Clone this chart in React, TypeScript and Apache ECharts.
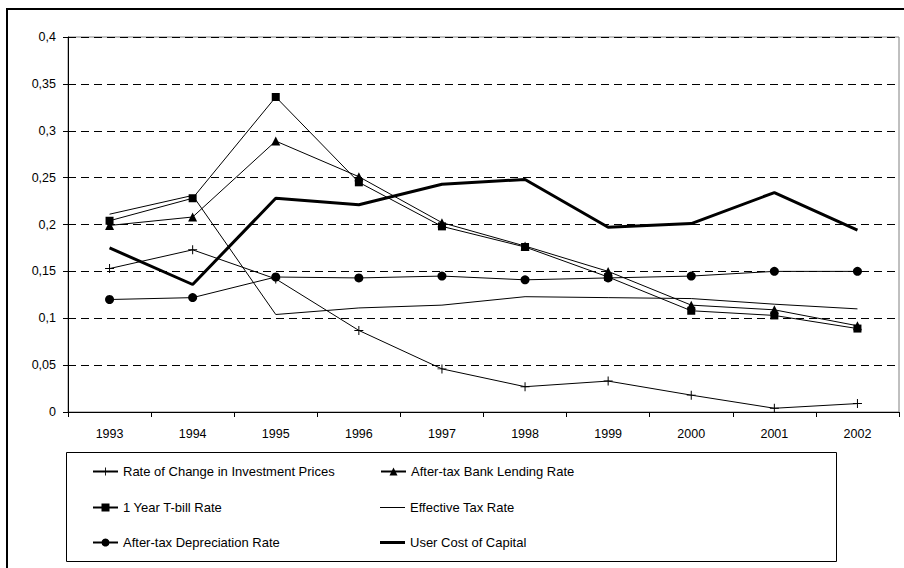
import React, { useEffect, useRef } from "react";
import * as echarts from "echarts";

const years = ["1993", "1994", "1995", "1996", "1997", "1998", "1999", "2000", "2001", "2002"];
const investmentPrices = [0.153, 0.173, 0.142, 0.087, 0.046, 0.027, 0.033, 0.018, 0.004, 0.009];
const bankLending = [0.199, 0.208, 0.289, 0.251, 0.202, 0.177, 0.150, 0.114, 0.109, 0.092];
const tBill = [0.204, 0.228, 0.336, 0.245, 0.198, 0.176, 0.144, 0.108, 0.103, 0.089];
const effectiveTax = [0.211, 0.231, 0.104, 0.111, 0.114, 0.123, 0.122, 0.121, 0.115, 0.110];
const depreciation = [0.120, 0.122, 0.144, 0.143, 0.145, 0.141, 0.143, 0.145, 0.150, 0.150];
const userCost = [0.175, 0.136, 0.228, 0.221, 0.243, 0.248, 0.197, 0.201, 0.234, 0.194];

const seriesNames = [
  "Rate of Change in Investment Prices",
  "After-tax Bank Lending Rate",
  "1 Year T-bill Rate",
  "Effective Tax Rate",
  "After-tax Depreciation Rate",
  "User Cost of Capital",
];

const FONT = "'Liberation Sans', Arial, sans-serif";
const PLUS = "path://M4,0h1v4h4v1h-4v4h-1v-4h-4v-1h4z";
const THIN_ICON = "path://M0,0h25v1h-25z";
const THICK_ICON = "path://M0,0h25v3h-25z";

export default function App() {
  const ref = useRef<HTMLDivElement>(null);
  useEffect(() => {
    if (!ref.current) return;
    const chart = echarts.init(ref.current, null, { renderer: "svg" });
    const lineSeries = (name: string, data: number[], symbol: string, size: number, width: number) => ({
      name,
      type: "line",
      data,
      symbol,
      symbolSize: size,
      showSymbol: symbol !== "none",
      color: "#000",
      itemStyle: { color: "#000" },
      lineStyle: { color: "#000", width },
    });
    const legendPos = [
      { left: 92, top: 465 },
      { left: 380, top: 465 },
      { left: 92, top: 501 },
      { left: 380, top: 501 },
      { left: 92, top: 536 },
      { left: 380, top: 536 },
    ];
    const legendIcons: (string | undefined)[] = [undefined, undefined, undefined, THIN_ICON, undefined, THICK_ICON];
    chart.setOption({
      animation: false,
      backgroundColor: "#fff",
      grid: {
        left: 68,
        top: 37,
        width: 831,
        height: 375,
        show: true,
        borderColor: "#808080",
        borderWidth: 1,
      },
      xAxis: {
        type: "category",
        data: years,
        boundaryGap: true,
        axisLine: { lineStyle: { color: "#000", width: 1 } },
        axisTick: { show: true, alignWithLabel: false, length: 5, lineStyle: { color: "#000" } },
        axisLabel: { color: "#000", fontSize: 12.5, fontFamily: FONT, margin: 15 },
        splitLine: { show: false },
      },
      yAxis: {
        type: "value",
        min: 0,
        max: 0.4,
        interval: 0.05,
        axisLine: { show: true, lineStyle: { color: "#000", width: 1 } },
        axisTick: { show: true, length: 5, lineStyle: { color: "#000" } },
        axisLabel: {
          color: "#000",
          fontSize: 12.5,
          fontFamily: FONT,
          margin: 12,
          formatter: (v: number) => String(+v.toFixed(2)).replace(".", ","),
        },
        splitLine: { show: true, lineStyle: { color: "#000", type: [8, 5], width: 1 } },
      },
      legend: seriesNames.map((n, i) => ({
        data: [legendIcons[i] ? { name: n, icon: legendIcons[i] } : { name: n }],
        left: legendPos[i].left,
        top: legendPos[i].top,
        padding: 0,
        itemWidth: 25,
        itemHeight: 10,
        itemStyle: { color: "#000" },
        textStyle: { color: "#000", fontSize: 13, fontFamily: FONT },
        selectedMode: false,
      })),
      graphic: [
        {
          type: "rect",
          shape: { x: 7, y: 9, width: 905, height: 570 },
          style: { fill: "none", stroke: "#000", lineWidth: 2 },
          silent: true,
        },
        {
          type: "rect",
          shape: { x: 66.5, y: 452.5, width: 770, height: 109 },
          style: { fill: "none", stroke: "#000", lineWidth: 1 },
          silent: true,
        },
      ],
      series: [
        lineSeries(seriesNames[0], investmentPrices, PLUS, 9, 1),
        lineSeries(seriesNames[1], bankLending, "triangle", 9, 1),
        lineSeries(seriesNames[2], tBill, "rect", 8, 1),
        lineSeries(seriesNames[3], effectiveTax, "none", 0, 1),
        lineSeries(seriesNames[4], depreciation, "circle", 9, 1),
        lineSeries(seriesNames[5], userCost, "none", 0, 3),
      ],
    });
    return () => chart.dispose();
  }, []);
  return (
    <div
      ref={ref}
      style={{ position: "fixed", left: 0, top: 0, width: 904, height: 568, background: "#fff" }}
    />
  );
}
